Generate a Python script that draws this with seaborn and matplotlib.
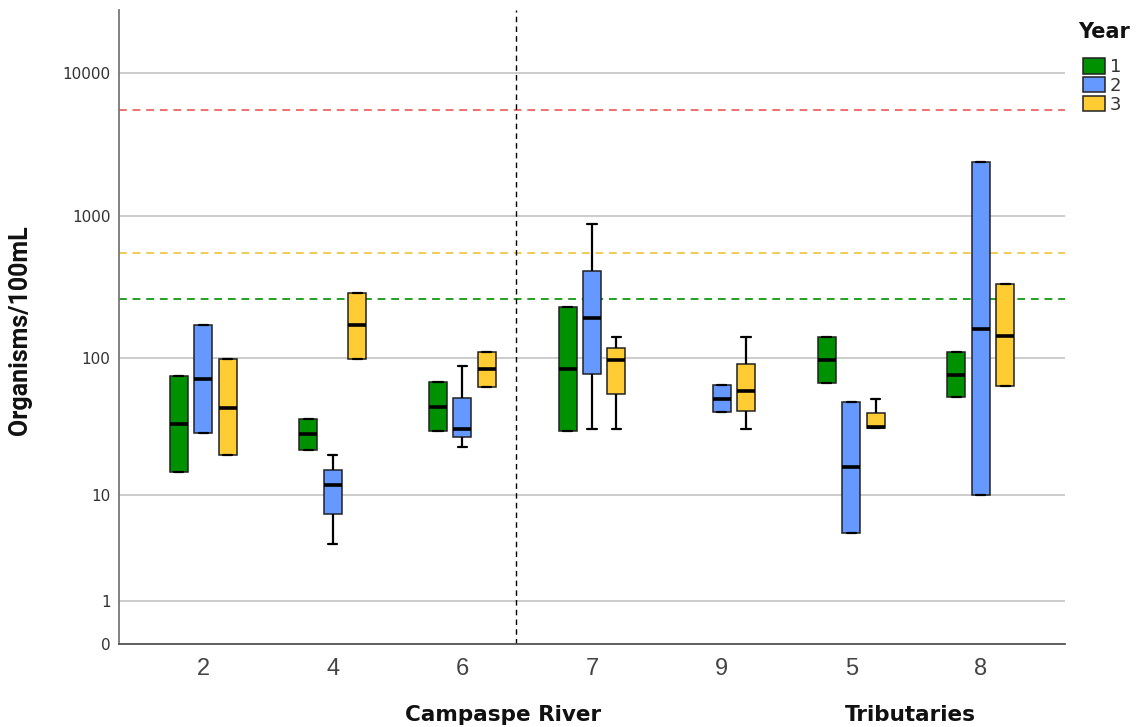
import numpy as np
import pandas as pd
import matplotlib
matplotlib.use("Agg")
import matplotlib.pyplot as plt
import seaborn as sns

sns.set_theme(style="white")
plt.rcParams["font.family"] = ["DejaVu Sans"]

# ---- data ----
sites = ["2", "4", "6", "7", "9", "5", "8"]
years = ["1", "2", "3"]
year_colors = ["#009100", "#6699FF", "#FFCC33"]

# five-number summaries per year (rows) and site (cols); None = no samples
whis_lo = [
    [15, 22, 30, 30, None, 66, 52.5],
    [29, 4, 23, 31, 41, 5, 10],
    [20, 99, 62.5, 31, 31, 31.6, 63],
]
q1 = [
    [15, 22, 30, 30, None, 66, 52.5],
    [29, 7.1, 27, 77, 41, 5, 10],
    [20, 99, 62.5, 55, 42, 31.6, 63],
]
med = [
    [33.6, 28.6, 45, 84, None, 96, 75.6],
    [70.5, 12, 31, 190, 51, 16.4, 161],
    [44, 171, 83, 97, 58, 32.3, 144],
]
q3 = [
    [74, 37, 68, 230, None, 140, 110],
    [170, 15.5, 52, 409, 64, 49, 2390],
    [98, 287, 110, 117, 90, 40.7, 330],
]
whis_hi = [
    [74, 37, 68, 230, None, 140, 110],
    [170, 20, 88, 870, 64, 49, 2390],
    [98, 287, 110, 140, 140, 51, 330],
]

# guideline values (organisms/100mL)
limit_values = [5500, 550, 260]
limit_colors = ["#F07070", "#F0CC55", "#22A022"]

groups = ["Campaspe River", "Tributaries"]

# long-form table: five points per box reproduce the summary exactly
rows = []
for i, yr in enumerate(years):
    for j, site in enumerate(sites):
        if med[i][j] is None:
            continue
        for v in (whis_lo[i][j], q1[i][j], med[i][j], q3[i][j], whis_hi[i][j]):
            rows.append({"site": site, "year": yr, "count": v})
df = pd.DataFrame(rows)

# ---- plot ----
fig, ax = plt.subplots(figsize=(11.41, 7.27), dpi=100)
fig.subplots_adjust(left=0.1043, right=0.9334, bottom=0.1142, top=0.986)

# SPSS style log(x+1) axis so that 0 can be shown
fwd = lambda v: np.log10(np.asarray(v, dtype=float) + 1)
inv = lambda v: 10 ** np.asarray(v, dtype=float) - 1
ax.set_yscale("function", functions=(fwd, inv))

sns.boxplot(data=df, x="site", y="count", hue="year",
            order=sites, hue_order=years, palette=year_colors,
            saturation=1, width=0.565, gap=0.26, whis=(0, 100),
            linecolor="#222222", linewidth=1.1,
            medianprops=dict(color="black", linewidth=2.6),
            whiskerprops=dict(color="black", linewidth=1.6),
            capprops=dict(color="black", linewidth=1.6),
            ax=ax)

ax.set_ylim(0, 27600)
ax.set_xlim(-0.65, 6.65)

ax.set_yticks([0, 1, 10, 100, 1000, 10000])
ax.set_yticklabels(["0", "1", "10", "100", "1000", "10000"])
ax.yaxis.grid(True, color="#C8C8C8", linewidth=1.3)
ax.set_axisbelow(True)

for val, col in zip(limit_values, limit_colors):
    ax.axhline(val, color=col, linestyle=(0, (4, 3)), linewidth=1.4, zorder=1)
ax.axvline(2.41, color="black", linestyle=(0, (4, 3)), linewidth=1, zorder=1)

ax.tick_params(axis="y", length=0, pad=6, labelsize=11, labelcolor="#333333")
ax.tick_params(axis="x", length=0, pad=10, labelsize=17, labelcolor="#444444")
for lab in ax.get_xticklabels():
    lab.set_family(["Liberation Sans", "DejaVu Sans"])
ax.set_xlabel("")
ax.set_ylabel("Organisms/100mL", fontsize=18, fontweight="bold",
              family=["Roboto", "DejaVu Sans"], color="#111111")
ax.yaxis.set_label_coords(-0.092, 0.495)

for side in ["top", "right"]:
    ax.spines[side].set_visible(False)
ax.spines["left"].set_color("#777777")
ax.spines["bottom"].set_color("#555555")
ax.spines["left"].set_linewidth(1.3)
ax.spines["bottom"].set_linewidth(1.3)

fig.text(503 / 1141, 1 - 721 / 727, groups[0], ha="center", va="baseline",
         fontsize=15.5, fontweight="bold", color="#111111")
fig.text(910 / 1141, 1 - 721 / 727, groups[1], ha="center", va="baseline",
         fontsize=15.5, fontweight="bold", color="#111111")

sns.move_legend(ax, "upper left", bbox_to_anchor=(1083 / 1141, 1 - 58 / 727),
                bbox_transform=fig.transFigure, frameon=False, title="",
                fontsize=13, handlelength=1.2, handleheight=0.95,
                handletextpad=0.3, labelspacing=0.05, borderpad=0,
                borderaxespad=0)
for t in ax.get_legend().get_texts():
    t.set_color("#333333")
fig.text(1104 / 1141, 1 - 32 / 727, "Year", ha="center", va="center",
         fontsize=15, fontweight="bold", color="#111111")

fig.savefig("out.png", dpi=100)
